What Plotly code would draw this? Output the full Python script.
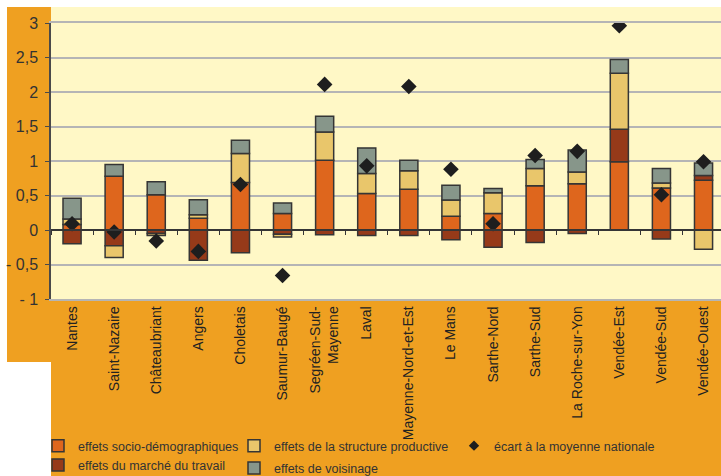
import plotly.graph_objects as go

# Zones d'emploi (catégories de l'axe horizontal)
zones = [
    "Nantes", "Saint-Nazaire", "Châteaubriant", "Angers", "Choletais",
    "Saumur-Baugé", "Segréen-Sud-<br>Mayenne", "Laval", "Mayenne-Nord-et-Est",
    "Le Mans", "Sarthe-Nord", "Sarthe-Sud", "La Roche-sur-Yon",
    "Vendée-Est", "Vendée-Sud", "Vendée-Ouest",
]

# Décomposition de l'écart (en points)
socio_demo = [0.08, 0.78, 0.51, 0.17, 0.69, 0.24, 1.01, 0.53, 0.59, 0.20, 0.24, 0.64, 0.67, 0.99, 0.61, 0.72]
marche_travail = [-0.20, -0.23, -0.05, -0.44, -0.33, -0.06, -0.07, -0.08, -0.08, -0.14, -0.25, -0.18, -0.05, 0.47, -0.13, 0.07]
structure_prod = [0.08, -0.17, -0.03, 0.05, 0.42, -0.04, 0.41, 0.29, 0.27, 0.235, 0.30, 0.25, 0.17, 0.81, 0.07, -0.28]
voisinage = [0.30, 0.17, 0.19, 0.22, 0.19, 0.15, 0.23, 0.37, 0.15, 0.215, 0.06, 0.13, 0.32, 0.20, 0.21, 0.18]
ecart_moyenne = [0.09, -0.03, -0.16, -0.31, 0.66, -0.66, 2.11, 0.93, 2.08, 0.88, 0.09, 1.08, 1.14, 2.96, 0.51, 0.99]

y_ticks = [-1, -0.5, 0, 0.5, 1, 1.5, 2, 2.5, 3]
y_tick_text = ["- 1", "- 0,5", "0", "0,5", "1", "1,5", "2", "2,5", "3"]

ORANGE_BG = "#EFA021"
PLOT_BG = "#FFF8C6"
OUTLINE = "#353535"
TEXT = "#333333"
LEGEND_FONT = dict(family="Liberation Sans, Arial, sans-serif", size=12.5, color=TEXT)

W, H = 721, 476
ML, MT, MB, MR = 51, 23, 177, 0
PW, PH = W - ML - MR, H - MT - MB


def px_x(x):
    return (x - ML) / PW


def px_y(y):
    return 1 - (y - MT) / PH


fig = go.Figure()

series = [
    ("effets socio-démographiques", socio_demo, "#DE661D", "legend", "g1"),
    ("effets du marché du travail", marche_travail, "#963A19", "legend", "g2"),
    ("effets de la structure productive", structure_prod, "#E9C66B", "legend2", "g3"),
    ("effets de voisinage", voisinage, "#87968A", "legend2", "g4"),
]
for name, vals, color, leg, grp in series:
    fig.add_trace(go.Bar(
        x=zones, y=vals, name=name, legend=leg, legendgroup=grp,
        marker=dict(color=color, line=dict(color=OUTLINE, width=1.5)),
    ))

fig.add_trace(go.Scatter(
    x=zones, y=ecart_moyenne, name="écart à la moyenne nationale",
    mode="markers", xaxis="x2", showlegend=False, legendgroup="g5",
    marker=dict(symbol="diamond", size=12, color="#1E1E1E"),
))
# legend entry with a smaller diamond
fig.add_trace(go.Scatter(
    x=[None], y=[None], name="écart à la moyenne nationale",
    mode="markers", xaxis="x2", legend="legend3", legendgroup="g5",
    marker=dict(symbol="diamond", size=8, color="#1E1E1E"),
))

x_range = [-0.5, 15.415]

# Orange frame around the plotting area, and the pale band above the top gridline
shapes = [
    dict(type="rect", xref="paper", yref="paper", layer="below",
         x0=px_x(7), x1=0, y0=px_y(362), y1=px_y(7),
         fillcolor=ORANGE_BG, line=dict(width=0)),
    dict(type="rect", xref="paper", yref="paper", layer="below",
         x0=0, x1=px_x(W + 2), y0=px_y(H + 2), y1=0,
         fillcolor=ORANGE_BG, line=dict(width=0)),
    dict(type="rect", xref="paper", yref="paper", layer="below",
         x0=0, x1=px_x(W + 2), y0=1, y1=px_y(7),
         fillcolor=PLOT_BG, line=dict(width=0)),
]

fig.update_layout(
    width=W, height=H,
    margin=dict(l=ML, r=MR, t=MT, b=MB, autoexpand=False),
    paper_bgcolor="white",
    plot_bgcolor=PLOT_BG,
    barmode="relative",
    bargap=0.57,
    shapes=shapes,
    font=dict(family="Liberation Sans, Arial, sans-serif", color=TEXT),
    xaxis=dict(
        type="category", categoryorder="array", categoryarray=zones,
        range=x_range, tickangle=-90, showgrid=False, ticks="",
        showline=True, linecolor="#B5B5B5", linewidth=1.5, mirror=True,
        tickfont=dict(size=14, color="#222222"),
    ),
    xaxis2=dict(
        type="category", categoryorder="array", categoryarray=zones,
        range=x_range, overlaying="x", anchor="free", position=0.25,
        showticklabels=False, showgrid=False, showline=True,
        linecolor=OUTLINE, linewidth=1.5, ticks="outside", tickson="boundaries",
        ticklen=4, tickwidth=1.2, tickcolor=OUTLINE,
    ),
    yaxis=dict(
        range=[-1, 3], tickvals=y_ticks, ticktext=y_tick_text,
        showgrid=True, gridcolor="#B5B5B5", gridwidth=1.5,
        zeroline=False, showline=True, linecolor="#4A4A4A", linewidth=1.5,
        ticks="outside", ticklen=4, tickcolor="#4A4A4A",
        tickfont=dict(size=16, color=TEXT),
        ticklabelstandoff=4,
    ),
    legend=dict(
        x=px_x(38), y=px_y(431), xanchor="left", yanchor="top",
        bgcolor="rgba(0,0,0,0)", font=LEGEND_FONT,
        tracegroupgap=0, itemclick=False,
    ),
    legend2=dict(
        x=px_x(234), y=px_y(431), xanchor="left", yanchor="top",
        bgcolor="rgba(0,0,0,0)", font=LEGEND_FONT,
        tracegroupgap=3, itemclick=False,
    ),
    legend3=dict(
        x=px_x(454), y=px_y(431), xanchor="left", yanchor="top",
        bgcolor="rgba(0,0,0,0)", font=LEGEND_FONT,
        itemclick=False,
    ),
    showlegend=True,
)

fig.write_html("out.html")
